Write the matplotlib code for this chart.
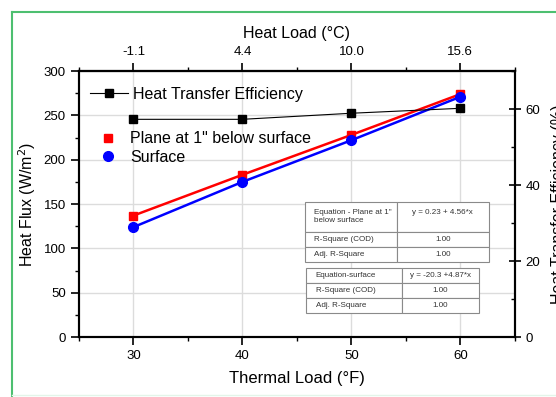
import matplotlib
matplotlib.use("Agg")
import matplotlib.pyplot as plt
from matplotlib.lines import Line2D
from matplotlib.ticker import MultipleLocator

plt.rcParams['font.family'] = ['Liberation Sans', 'DejaVu Sans']

# data
thermal_load_f = [30, 40, 50, 60]
heat_load_c = ["-1.1", "4.4", "10.0", "15.6"]
plane_flux = [137, 183, 228, 274]
surface_flux = [124, 175, 222, 271]
efficiency = [57.3, 57.3, 58.9, 60.2]

table1_rows = [['Equation - Plane at 1"\nbelow surface', 'y = 0.23 + 4.56*x\n'],
               ['R-Square (COD)', '1.00'],
               ['Adj. R-Square', '1.00']]
table2_rows = [['Equation-surface', 'y = -20.3 +4.87*x'],
               ['R-Square (COD)', '1.00'],
               ['Adj. R-Square', '1.00']]

fig = plt.figure(figsize=(5.56, 3.97), dpi=100)
ax = fig.add_axes([0.142, 0.151, 0.784, 0.670])

# green frame around the figure (left / top)
green = '#4dbf70'
fig.add_artist(Line2D([0.022, 0.022], [0.0, 0.970], transform=fig.transFigure, color=green, lw=1.5))
fig.add_artist(Line2D([0.022, 1.0], [0.970, 0.970], transform=fig.transFigure, color=green, lw=1.5))
fig.add_artist(Line2D([0.022, 1.0], [0.005, 0.005], transform=fig.transFigure, color='#e3f5e9', lw=1.0))

ax.plot(thermal_load_f, plane_flux, color='red', lw=1.8, marker='s', ms=6, zorder=3)
ax.plot(thermal_load_f, surface_flux, color='blue', lw=1.8, marker='o', ms=7, zorder=3)
ax.set_xlim(25, 65)
ax.set_ylim(0, 300)
ax.set_xticks(thermal_load_f)
ax.xaxis.set_minor_locator(MultipleLocator(5))
ax.yaxis.set_major_locator(MultipleLocator(50))
ax.yaxis.set_minor_locator(MultipleLocator(25))
ax.grid(True, color='#dcdcdc', lw=1.0)
ax.set_axisbelow(True)
ax.set_xlabel('Thermal Load (°F)', fontsize=12, labelpad=6)
ax.set_ylabel('Heat Flux (W/m$^2$)', fontsize=11.5, labelpad=4)
ax.tick_params(which='major', direction='out', length=6, width=1.2, labelsize=9.5)
ax.tick_params(which='minor', direction='out', length=3, width=1.0)
for s in ax.spines.values():
    s.set_linewidth(1.5)

leg1 = ax.legend(handles=[Line2D([], [], color='red', marker='s', ls='none', ms=6),
                          Line2D([], [], color='blue', marker='o', ls='none', ms=7)],
                 labels=['Plane at 1" below surface', 'Surface'],
                 loc='upper left', bbox_to_anchor=(0.0, 0.815), frameon=False,
                 fontsize=11.5, handlelength=2.2, handletextpad=0.3,
                 labelspacing=0.2, borderaxespad=0.3)

# top axis
top = ax.secondary_xaxis('top')
top.set_xticks(thermal_load_f)
top.set_xticklabels(heat_load_c)
top.xaxis.set_minor_locator(MultipleLocator(5))
top.set_xlabel('Heat Load (°C)', fontsize=11.5, labelpad=6)
top.tick_params(which='major', direction='out', length=6, width=1.2, labelsize=9.5)
top.tick_params(which='minor', direction='out', length=3, width=1.0)
top.spines['top'].set_linewidth(1.5)

# right axis
ax2 = ax.twinx()
ax2.plot(thermal_load_f, efficiency, color='black', lw=0.8, marker='s', ms=6,
         label='Heat Transfer Efficiency')
ax2.set_ylim(0, 70)
ax2.yaxis.set_major_locator(MultipleLocator(20))
ax2.yaxis.set_minor_locator(MultipleLocator(10))
ax2.tick_params(which='major', direction='inout', length=8, width=1.2, labelsize=9.5)
ax2.tick_params(which='minor', direction='in', length=3, width=1.0)
ax2.set_ylabel('Heat Transfer Efficiency (%)', fontsize=11.5, labelpad=8)
for s in ax2.spines.values():
    s.set_linewidth(1.5)
ax2.legend(loc='upper left', frameon=False, fontsize=11.5, handlelength=2.4,
           handletextpad=0.3, borderaxespad=0.4, bbox_to_anchor=(-0.005, 0.99))


def add_table(rows, bbox, col_widths, first_height):
    tb = ax2.table(cellText=rows, bbox=bbox, colWidths=col_widths, zorder=5)
    tb.auto_set_font_size(False)
    tb.set_fontsize(5.8)
    for (r, c), cell in tb.get_celld().items():
        cell.set_edgecolor('#8a8a8a')
        cell.set_linewidth(0.8)
        cell.set_facecolor('white')
        cell.set_height(first_height if r == 0 else 1.0)
        txt = cell.get_text()
        txt.set_color('#333333')
        if c == 0:
            cell._loc = 'left'
            txt.set_ha('left')
        else:
            cell._loc = 'center'
            txt.set_ha('center')
    return tb


add_table(table1_rows, [0.518, 0.282, 0.422, 0.226], [0.5, 0.5], 2.0)
add_table(table2_rows, [0.521, 0.090, 0.397, 0.169], [0.555, 0.445], 1.0)

fig.savefig('out.png', dpi=100)
